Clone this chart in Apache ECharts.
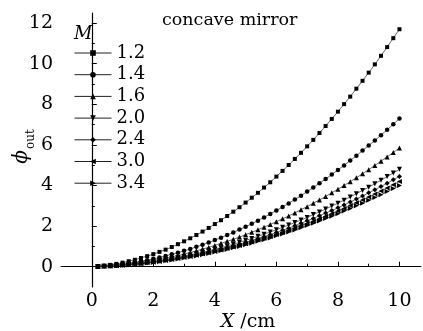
<!DOCTYPE html>
<html>
<head>
<meta charset="utf-8">
<script src="https://cdn.jsdelivr.net/npm/echarts@6/dist/echarts.min.js"></script>
<style>html,body{margin:0;padding:0;background:#fff}#c{width:423px;height:331px}</style>
</head>
<body>
<div id="c"></div>
<script>
const xValues = [0.2,0.4,0.6,0.8,1.0,1.2,1.4,1.6,1.8,2.0,2.2,2.4,2.6,2.8,3.0,3.2,3.4,3.6,3.8,4.0,4.2,4.4,4.6,4.8,5.0,5.2,5.4,5.6,5.8,6.0,6.2,6.4,6.6,6.8,7.0,7.2,7.4,7.6,7.8,8.0,8.2,8.4,8.6,8.8,9.0,9.2,9.4,9.6,9.8,10.0];
const seriesNames = ['1.2','1.4','1.6','2.0','2.4','3.0','3.4'];
const m12 = [0.02,0.05,0.09,0.14,0.20,0.27,0.34,0.43,0.52,0.62,0.73,0.84,0.97,1.11,1.25,1.40,1.56,1.73,1.91,2.10,2.29,2.50,2.71,2.93,3.16,3.40,3.64,3.90,4.16,4.44,4.72,5.01,5.31,5.61,5.93,6.25,6.59,6.93,7.28,7.64,8.01,8.38,8.77,9.16,9.56,9.97,10.39,10.82,11.26,11.70];
const m14 = [0.01,0.03,0.06,0.09,0.13,0.17,0.21,0.27,0.32,0.39,0.45,0.53,0.61,0.69,0.78,0.87,0.98,1.08,1.19,1.31,1.43,1.56,1.69,1.83,1.97,2.12,2.27,2.43,2.60,2.77,2.94,3.12,3.31,3.50,3.70,3.90,4.11,4.32,4.54,4.77,4.99,5.23,5.47,5.72,5.97,6.22,6.48,6.75,7.02,7.30];
const m16 = [0.01,0.03,0.05,0.07,0.10,0.13,0.17,0.21,0.26,0.31,0.36,0.42,0.49,0.55,0.62,0.70,0.78,0.87,0.95,1.05,1.15,1.25,1.35,1.46,1.58,1.70,1.82,1.95,2.08,2.22,2.36,2.50,2.65,2.81,2.96,3.13,3.29,3.46,3.64,3.82,4.00,4.19,4.38,4.58,4.78,4.99,5.20,5.41,5.63,5.85];
const m20 = [0.01,0.02,0.04,0.06,0.08,0.11,0.14,0.17,0.21,0.25,0.30,0.35,0.40,0.45,0.51,0.58,0.64,0.71,0.78,0.86,0.94,1.02,1.11,1.20,1.30,1.39,1.50,1.60,1.71,1.82,1.94,2.05,2.18,2.30,2.43,2.57,2.70,2.84,2.99,3.13,3.28,3.44,3.60,3.76,3.92,4.09,4.26,4.44,4.62,4.80];
const m24 = [0.01,0.02,0.04,0.05,0.08,0.10,0.13,0.16,0.20,0.23,0.28,0.32,0.37,0.42,0.48,0.53,0.59,0.66,0.73,0.80,0.87,0.95,1.03,1.11,1.20,1.29,1.39,1.48,1.58,1.69,1.79,1.90,2.02,2.14,2.26,2.38,2.51,2.64,2.77,2.90,3.04,3.19,3.33,3.48,3.64,3.79,3.95,4.11,4.28,4.45];
const m30 = [0.01,0.02,0.03,0.05,0.07,0.10,0.12,0.15,0.19,0.22,0.26,0.30,0.35,0.40,0.45,0.50,0.56,0.62,0.69,0.75,0.82,0.90,0.97,1.05,1.13,1.22,1.31,1.40,1.49,1.59,1.69,1.80,1.91,2.02,2.13,2.24,2.36,2.49,2.61,2.74,2.87,3.01,3.15,3.29,3.43,3.58,3.73,3.88,4.04,4.20];
const m34 = [0.01,0.02,0.03,0.05,0.07,0.09,0.12,0.15,0.18,0.21,0.25,0.29,0.33,0.38,0.43,0.48,0.53,0.59,0.65,0.72,0.78,0.85,0.93,1.00,1.08,1.16,1.25,1.33,1.42,1.52,1.61,1.71,1.81,1.92,2.03,2.14,2.25,2.37,2.49,2.61,2.74,2.87,3.00,3.13,3.27,3.41,3.55,3.70,3.85,4.00];
const xTickLabels = [0,2,4,6,8,10];
const xMinorTicks = [1,3,5,7,9];
const yTickLabels = [0,2,4,6,8,10,12];
const yMinorTicks = [1,3,5,7,9,11];

const allY = [m12,m14,m16,m20,m24,m30,m34];
const symbols = ['rect','circle','triangle','triangle','diamond','triangle','triangle'];
const rots = [0,0,0,180,0,90,-90];
const sizes = [4,4.5,5,5,5,5,5];
const FONT = 'DejaVu Serif';

const chart = echarts.init(document.getElementById('c'), null, {renderer:'canvas'});
const series = allY.map((ys,i)=>({
  name: seriesNames[i],
  type: 'line',
  xAxisIndex: 0, yAxisIndex: 0,
  data: xValues.map((x,j)=>[x, ys[j]]),
  symbol: symbols[i],
  symbolRotate: rots[i],
  symbolSize: sizes[i],
  showAllSymbol: true,
  lineStyle: {color:'#444', width:0.8},
  itemStyle: {color:'#000', borderWidth:0},
  emphasis: {disabled:true},
  animation: false,
  z: 3
}));
chart.setOption({
  animation: false,
  backgroundColor: '#fff',
  grid: {left:61, right:2, top:13, bottom:44},
  xAxis: [{
    type:'value', min:-1, max:10.7,
    axisLine:{show:true, lineStyle:{color:'#000', width:1.2}},
    axisTick:{show:true, inside:true, length:5, customValues: xTickLabels, lineStyle:{color:'#000', width:1}},
    axisLabel:{show:true, customValues: xTickLabels, fontFamily:FONT, fontSize:19, color:'#000', margin:5},
    splitLine:{show:false}
  },{
    type:'value', min:-1, max:10.7, position:'bottom',
    axisLine:{show:false},
    axisTick:{show:true, inside:true, length:3, customValues: xMinorTicks, lineStyle:{color:'#000', width:1}},
    axisLabel:{show:false},
    splitLine:{show:false}
  }],
  yAxis: [{
    type:'value', min:-1, max:12.5,
    axisLine:{show:true, lineStyle:{color:'#000', width:1.2}},
    axisTick:{show:true, inside:true, length:5, customValues: yTickLabels, lineStyle:{color:'#000', width:1}},
    axisLabel:{show:true, customValues: yTickLabels, fontFamily:FONT, fontSize:19, color:'#000', margin:8},
    splitLine:{show:false}
  },{
    type:'value', min:-1, max:12.5, position:'left',
    axisLine:{show:false},
    axisTick:{show:true, inside:true, length:3, customValues: yMinorTicks, lineStyle:{color:'#000', width:1}},
    axisLabel:{show:false},
    splitLine:{show:false}
  }],
  legend: {
    orient:'vertical', left:74, top:43, padding:0,
    itemWidth:37, itemHeight:7, itemGap:1.7,
    textStyle:{fontFamily:FONT, fontSize:18, color:'#000', lineHeight:20},
    itemStyle:{color:'#000', borderWidth:0},
    lineStyle:{color:'#222', width:1},
    data: seriesNames,
    selectedMode:false
  },
  graphic: [
    {type:'text', left:74, top:25, style:{text:'M', fontFamily:FONT, fontStyle:'italic', fontSize:18, fill:'#000'}},
    {type:'text', left:162, top:11, style:{text:'concave mirror', fontFamily:FONT, fontSize:17.5, fill:'#000'}},
    {type:'text', x:248, y:322, style:{text:'{i|X} /cm', fontFamily:FONT, fontSize:19, fill:'#000', align:'center', verticalAlign:'middle', rich:{i:{fontFamily:FONT, fontStyle:'italic', fontSize:19}}}},
    {type:'text', x:22, y:157, rotation:Math.PI/2, style:{text:'ϕ', fontFamily:FONT, fontStyle:'italic', fontSize:20, fill:'#000', align:'center', verticalAlign:'middle'}},
    {type:'text', x:31, y:139, rotation:Math.PI/2, style:{text:'out', fontFamily:FONT, fontSize:12, fill:'#000', align:'center', verticalAlign:'middle'}}
  ],
  series: series
});
</script>
</body>
</html>
